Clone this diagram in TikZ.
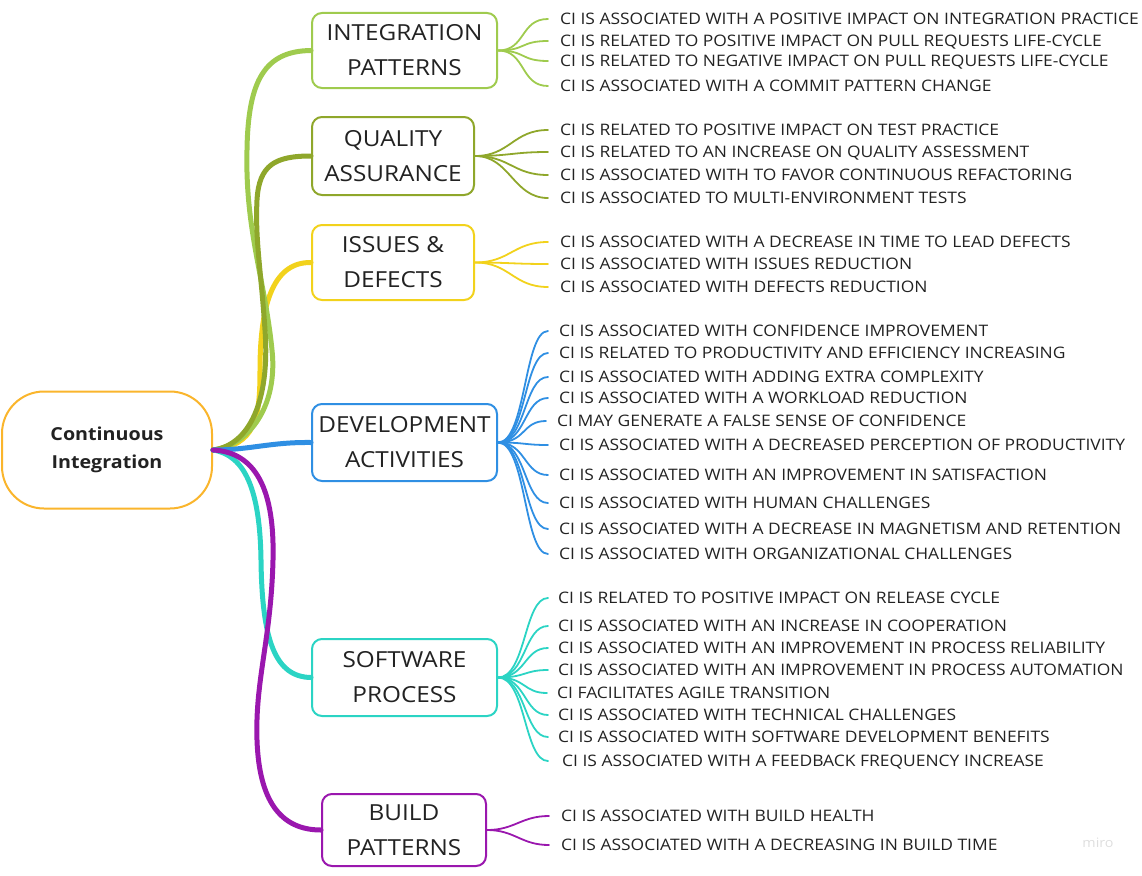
\documentclass[tikz,border=0pt]{standalone}
\usepackage{fontspec}
\setmainfont{Open Sans}[FakeStretch=1.1]
\definecolor{cmain}{HTML}{FAB52C}
\definecolor{cint}{HTML}{9FCB4E}
\definecolor{cqual}{HTML}{8FA72B}
\definecolor{ciss}{HTML}{F2D21C}
\definecolor{cdev}{HTML}{2F8FE3}
\definecolor{csoft}{HTML}{2BD4C4}
\definecolor{cbuild}{HTML}{9A17AE}
\definecolor{ctext}{HTML}{222222}
\tikzset{
  catbox/.style={draw, line width=2pt, rounded corners=10pt, fill=white, align=center,
    text=ctext, inner sep=2pt, font=\fontsize{22.1}{35}\selectfont},
  mainbox/.style={draw=cmain, line width=2pt, rounded corners=42pt, fill=white, align=center,
    text=ctext, font=\fontsize{17.9}{28}\selectfont\bfseries, minimum width=210pt, minimum height=117pt},
  leaf/.style={anchor=west, inner sep=0pt, text height=11.3pt, text depth=0pt, text=ctext,
    font=\fontsize{15.85}{18}\selectfont},
  trunk/.style={line width=5pt, line cap=round},
  twig/.style={line width=1.8pt, line cap=round},
}
\begin{document}
\begin{tikzpicture}[x=1pt,y=-1pt]
\useasboundingbox (0,0) rectangle (1142,875);

% category nodes
\node[mainbox] (ci) at (107,450) {Continuous\\Integration};
\node[catbox, draw=cint, minimum width=185pt, minimum height=75pt] (ip) at (404.5,50.5) {INTEGRATION\\PATTERNS};
\node[catbox, draw=cqual, minimum width=162pt, minimum height=78pt] (qa) at (393,156) {QUALITY\\ASSURANCE};
\node[catbox, draw=ciss, minimum width=162pt, minimum height=75pt] (id) at (393,262.5) {ISSUES \&\\DEFECTS};
\node[catbox, draw=cdev, minimum width=185pt, minimum height=77pt] (da) at (404.5,442.5) {DEVELOPMENT\\ACTIVITIES};
\node[catbox, draw=csoft, minimum width=185pt, minimum height=77pt] (sp) at (404.5,677.5) {SOFTWARE\\PROCESS};
\node[catbox, draw=cbuild, minimum width=164pt, minimum height=72pt] (bp) at (404,830) {BUILD\\PATTERNS};

% trunks
\coordinate (root) at (213,450);
\draw[trunk, ciss] (root) .. controls (255,445) and (260,420) .. (260,370)
  .. controls (260,300) and (275,262) .. (id.west);
\draw[trunk, cint] (root) .. controls (250,445) and (278,405) .. (272,350)
  .. controls (265,280) and (245,230) .. (247,150)
  .. controls (248,80) and (265,51) .. (ip.west);
\draw[trunk, cqual] (root) .. controls (250,445) and (270,400) .. (265,330)
  .. controls (261,270) and (255,240) .. (257,200)
  .. controls (259,165) and (275,156) .. (qa.west);
\draw[trunk, cdev] (root) .. controls (250,450) and (270,442) .. (da.west);
\draw[trunk, csoft] (root) .. controls (245,455) and (260,490) .. (261,560)
  .. controls (262,640) and (275,677) .. (sp.west);
\draw[trunk, cbuild] (root) .. controls (250,452) and (275,480) .. (273,560)
  .. controls (271,640) and (255,680) .. (257,740)
  .. controls (259,800) and (280,830) .. (bp.west);

% leaves: integration patterns
\node[leaf] (i1) at (560,19) {CI IS ASSOCIATED WITH A POSITIVE IMPACT ON INTEGRATION PRACTICE};
\node[leaf] (i2) at (560,41) {CI IS RELATED TO POSITIVE IMPACT ON PULL REQUESTS LIFE-CYCLE};
\node[leaf] (i3) at (560,61) {CI IS RELATED TO NEGATIVE IMPACT ON PULL REQUESTS LIFE-CYCLE};
\node[leaf] (i4) at (560,86) {CI IS ASSOCIATED WITH A COMMIT PATTERN CHANGE};
\foreach \n in {i1,i2,i3,i4}
  \draw[twig, cint] (ip.east) .. controls +(28,0) and +(-28,0) .. ([xshift=-12pt]\n.west);

% quality assurance
\node[leaf] (q1) at (560,130) {CI IS RELATED TO POSITIVE IMPACT ON TEST PRACTICE};
\node[leaf] (q2) at (560,152) {CI IS RELATED TO AN INCREASE ON QUALITY ASSESSMENT};
\node[leaf] (q3) at (560,175) {CI IS ASSOCIATED WITH TO FAVOR CONTINUOUS REFACTORING};
\node[leaf] (q4) at (560,198) {CI IS ASSOCIATED TO MULTI-ENVIRONMENT TESTS};
\foreach \n in {q1,q2,q3,q4}
  \draw[twig, cqual] (qa.east) .. controls +(35,0) and +(-35,0) .. ([xshift=-12pt]\n.west);

% issues & defects
\node[leaf] (d1) at (560,242) {CI IS ASSOCIATED WITH A DECREASE IN TIME TO LEAD DEFECTS};
\node[leaf] (d2) at (560,264) {CI IS ASSOCIATED WITH ISSUES REDUCTION};
\node[leaf] (d3) at (560,287) {CI IS ASSOCIATED WITH DEFECTS REDUCTION};
\foreach \n in {d1,d2,d3}
  \draw[twig, ciss] (id.east) .. controls +(35,0) and +(-35,0) .. ([xshift=-12pt]\n.west);

% development activities
\node[leaf] (a1) at (559,331) {CI IS ASSOCIATED WITH CONFIDENCE IMPROVEMENT};
\node[leaf] (a2) at (559,353) {CI IS RELATED TO PRODUCTIVITY AND EFFICIENCY INCREASING};
\node[leaf] (a3) at (559,377) {CI IS ASSOCIATED WITH ADDING EXTRA COMPLEXITY};
\node[leaf] (a4) at (559,398) {CI IS ASSOCIATED WITH A WORKLOAD REDUCTION};
\node[leaf] (a5) at (557,421) {CI MAY GENERATE A FALSE SENSE OF CONFIDENCE};
\node[leaf] (a6) at (559,445) {CI IS ASSOCIATED WITH A DECREASED PERCEPTION OF PRODUCTIVITY};
\node[leaf] (a7) at (559,475) {CI IS ASSOCIATED WITH AN IMPROVEMENT IN SATISFACTION};
\node[leaf] (a8) at (559,503) {CI IS ASSOCIATED WITH HUMAN CHALLENGES};
\node[leaf] (a9) at (559,529) {CI IS ASSOCIATED WITH A DECREASE IN MAGNETISM AND RETENTION};
\node[leaf] (a10) at (559,554) {CI IS ASSOCIATED WITH ORGANIZATIONAL CHALLENGES};
\foreach \n in {a1,a2,a3,a4,a5,a6,a7,a8,a9,a10}
  \draw[twig, cdev] (da.east) .. controls +(28,0) and +(-24,0) .. ([xshift=-11pt]\n.west);

% software process
\node[leaf] (s1) at (558,598) {CI IS RELATED TO POSITIVE IMPACT ON RELEASE CYCLE};
\node[leaf] (s2) at (558,626) {CI IS ASSOCIATED WITH AN INCREASE IN COOPERATION};
\node[leaf] (s3) at (558,648) {CI IS ASSOCIATED WITH AN IMPROVEMENT IN PROCESS RELIABILITY};
\node[leaf] (s4) at (558,670) {CI IS ASSOCIATED WITH AN IMPROVEMENT IN PROCESS AUTOMATION};
\node[leaf] (s5) at (557,693) {CI FACILITATES AGILE TRANSITION};
\node[leaf] (s6) at (558,715) {CI IS ASSOCIATED WITH TECHNICAL CHALLENGES};
\node[leaf] (s7) at (558,737) {CI IS ASSOCIATED WITH SOFTWARE DEVELOPMENT BENEFITS};
\node[leaf] (s8) at (562,761) {CI IS ASSOCIATED WITH A FEEDBACK FREQUENCY INCREASE};
\foreach \n in {s1,s2,s3,s4,s5,s6,s7}
  \draw[twig, csoft] (sp.east) .. controls +(28,0) and +(-24,0) .. ([xshift=-10pt]\n.west);
\draw[twig, csoft] (sp.east) .. controls +(28,0) and +(-24,0) .. ([xshift=-14pt]s8.west);

% build patterns
\node[leaf] (b1) at (561,816) {CI IS ASSOCIATED WITH BUILD HEALTH};
\node[leaf] (b2) at (561,845) {CI IS ASSOCIATED WITH A DECREASING IN BUILD TIME};
\foreach \n in {b1,b2}
  \draw[twig, cbuild] (bp.east) .. controls +(28,0) and +(-28,0) .. ([xshift=-12pt]\n.west);

% watermark
\node[text=black!13, font=\fontsize{13}{15}\selectfont] (wm) at (1098,843) {miro};
\end{tikzpicture}
\end{document}
